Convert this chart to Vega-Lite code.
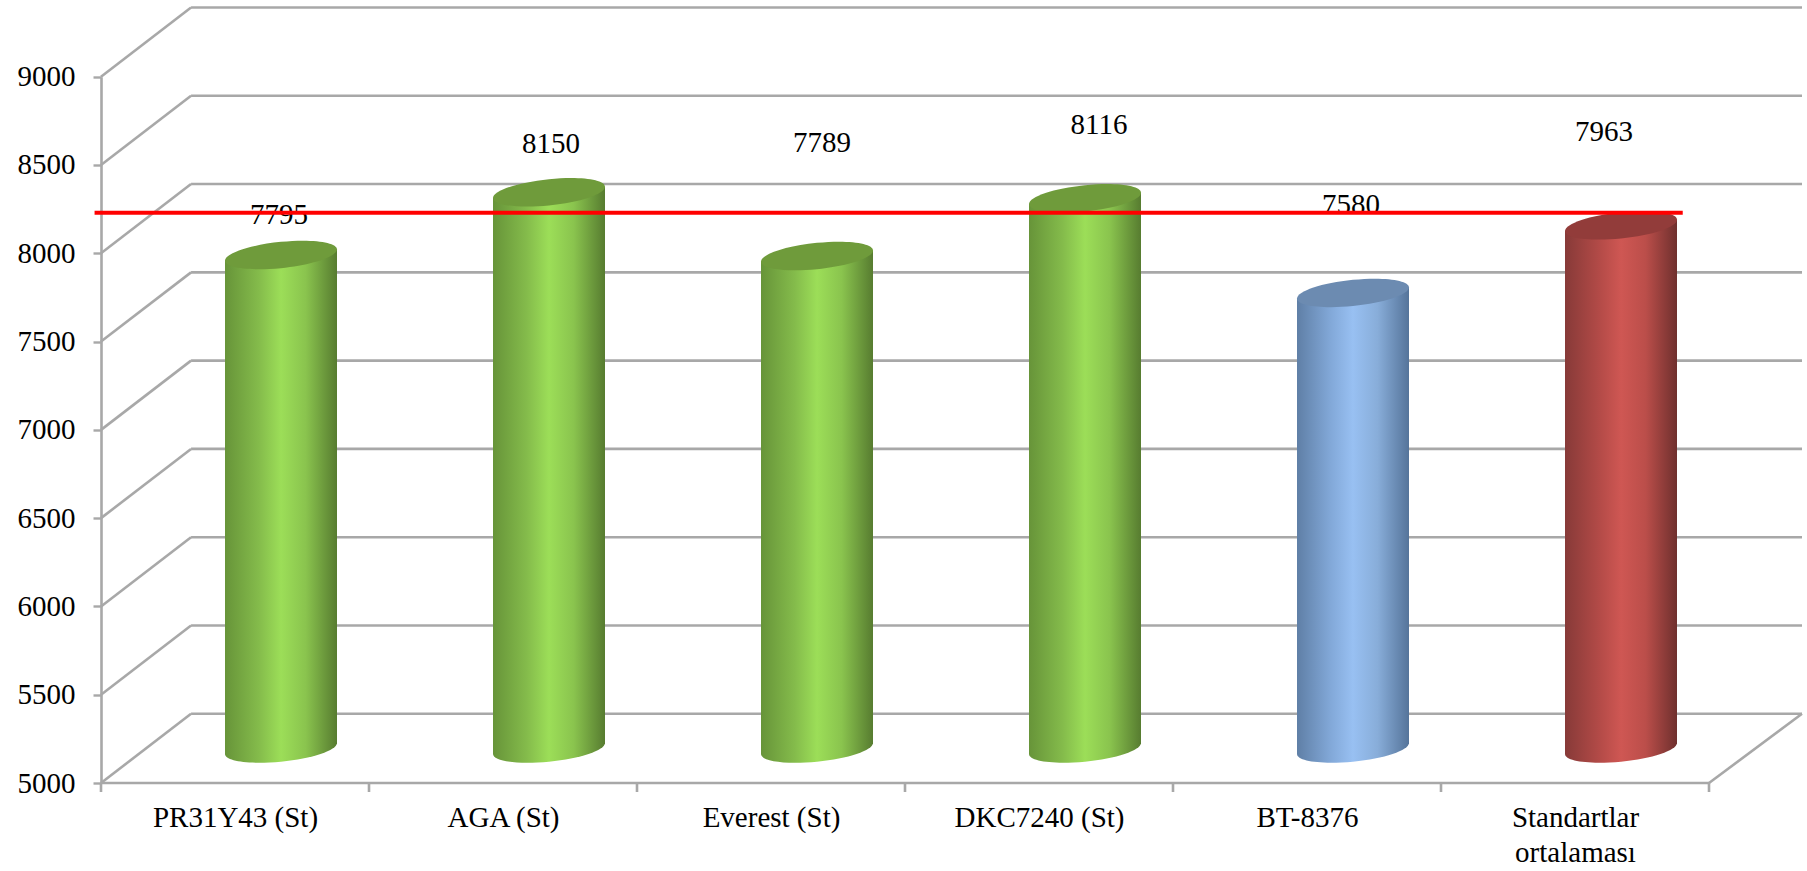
{
"$schema":"https://vega.github.io/schema/vega-lite/v6.json",
"autosize":"none","width":1701,"height":776,
"padding":{"left":101,"top":7,"right":5,"bottom":88},
"background":"white",
"config":{"view":{"stroke":null}},
"datasets":{
"bars":[
{"cat":"PR31Y43 (St)","slot":0.5,"value":7795,"base":5000,"group":"St"},
{"cat":"AGA (St)","slot":1.5,"value":8150,"base":5000,"group":"St"},
{"cat":"Everest (St)","slot":2.5,"value":7789,"base":5000,"group":"St"},
{"cat":"DKC7240 (St)","slot":3.5,"value":8116,"base":5000,"group":"St"},
{"cat":"BT-8376","slot":4.5,"value":7580,"base":5000,"group":"Aday"},
{"cat":"Standartlar ortalaması","slot":5.5,"value":7963,"base":5000,"group":"Ort"}],
"labels":[
{"value":7795,"at":0.664,"level":8217},
{"value":8150,"at":1.679,"level":8619},
{"value":7789,"at":2.69,"level":8625},
{"value":8116,"at":3.724,"level":8727},
{"value":7580,"at":4.664,"level":8274},
{"value":7963,"at":5.608,"level":8687}],
"frame":[
{"a":0,"a2":0.336,"b":5000,"b2":5392},{"a":0,"a2":0.336,"b":5500,"b2":5892},{"a":0,"a2":0.336,"b":6000,"b2":6392},
{"a":0,"a2":0.336,"b":6500,"b2":6892},{"a":0,"a2":0.336,"b":7000,"b2":7392},{"a":0,"a2":0.336,"b":7500,"b2":7892},
{"a":0,"a2":0.336,"b":8000,"b2":8392},{"a":0,"a2":0.336,"b":8500,"b2":8892},{"a":0,"a2":0.336,"b":9000,"b2":9392},
{"a":0.336,"a2":6.347,"b":5392,"b2":5392},{"a":0.336,"a2":6.347,"b":5892,"b2":5892},{"a":0.336,"a2":6.347,"b":6392,"b2":6392},
{"a":0.336,"a2":6.347,"b":6892,"b2":6892},{"a":0.336,"a2":6.347,"b":7392,"b2":7392},{"a":0.336,"a2":6.347,"b":7892,"b2":7892},
{"a":0.336,"a2":6.347,"b":8392,"b2":8392},{"a":0.336,"a2":6.347,"b":8892,"b2":8892},{"a":0.336,"a2":6.347,"b":9392,"b2":9392},
{"a":6,"a2":6.347,"b":5000,"b2":5392},
{"a":0,"a2":6,"b":5000,"b2":5000},
{"a":0,"a2":0,"b":5000,"b2":4949},{"a":1,"a2":1,"b":5000,"b2":4949},{"a":2,"a2":2,"b":5000,"b2":4949},{"a":3,"a2":3,"b":5000,"b2":4949},
{"a":4,"a2":4,"b":5000,"b2":4949},{"a":5,"a2":5,"b":5000,"b2":4949},{"a":6,"a2":6,"b":5000,"b2":4949}],
"mean":[{"a":-0.024,"a2":5.902,"b":8230}]
},
"layer":[
{"data":{"name":"frame"},
 "mark":{"type":"rule","color":"#a8a8a8","strokeWidth":2.6},
 "encoding":{
  "x":{"field":"a","type":"quantitative","scale":{"domain":[0,6.347],"nice":false,"zero":false,"padding":0},
   "axis":{"title":null,"values":[0.5,1.5,2.5,3.5,4.5,5.5],"domain":false,"ticks":false,"grid":false,"tickSize":0,"labelPadding":20,"labelAngle":0,"labelFont":"Liberation Serif","labelFontSize":29,"labelColor":"#000000","labelLimit":400,"labelLineHeight":35,"labelOverlap":false,"labelFlush":false,
   "labelExpr":"['PR31Y43 (St)','AGA (St)','Everest (St)','DKC7240 (St)','BT-8376',['Standartlar','ortalaması']][datum.value-0.5]"}},
  "x2":{"field":"a2"},
  "y":{"field":"b","type":"quantitative","scale":{"domain":[5000,9000],"range":[776,69.7],"nice":false,"zero":false},
   "axis":{"values":[5000,5500,6000,6500,7000,7500,8000,8500,9000],"title":null,"grid":false,"domainColor":"#a8a8a8","domainWidth":2.6,"tickColor":"#a8a8a8","tickWidth":2.4,"tickSize":8,"labelPadding":18,"labelFont":"Liberation Serif","labelFontSize":29,"labelColor":"#000000","format":"d"}},
  "y2":{"field":"b2"}}},
{"data":{"name":"bars"},"transform":[{"filter":"datum.group=='St'"}],
 "mark":{"type":"bar","size":112,"xOffset":46,"yOffset":-29,"y2Offset":-39,"color":{"gradient":"linear","x1":0,"x2":1,"y1":0,"y2":0,"stops":[{"offset":0,"color":"#679439"},{"offset":0.3,"color":"#84bb4b"},{"offset":0.5,"color":"#9cde58"},{"offset":0.72,"color":"#8ac44e"},{"offset":1,"color":"#577c30"}]}},
 "encoding":{"x":{"field":"slot","type":"quantitative"},"y":{"field":"value","type":"quantitative"},"y2":{"field":"base"}}},
{"data":{"name":"bars"},"transform":[{"filter":"datum.group=='Aday'"}],
 "mark":{"type":"bar","size":112,"xOffset":46,"yOffset":-29,"y2Offset":-39,"color":{"gradient":"linear","x1":0,"x2":1,"y1":0,"y2":0,"stops":[{"offset":0,"color":"#5f7fa6"},{"offset":0.3,"color":"#82a8d8"},{"offset":0.5,"color":"#98c0f2"},{"offset":0.72,"color":"#88add9"},{"offset":1,"color":"#55749a"}]}},
 "encoding":{"x":{"field":"slot","type":"quantitative"},"y":{"field":"value","type":"quantitative"},"y2":{"field":"base"}}},
{"data":{"name":"bars"},"transform":[{"filter":"datum.group=='Ort'"}],
 "mark":{"type":"bar","size":112,"xOffset":46,"yOffset":-29,"y2Offset":-39,"color":{"gradient":"linear","x1":0,"x2":1,"y1":0,"y2":0,"stops":[{"offset":0,"color":"#873a38"},{"offset":0.3,"color":"#b24a47"},{"offset":0.5,"color":"#cf5753"},{"offset":0.72,"color":"#bb4e4a"},{"offset":1,"color":"#6f302e"}]}},
 "encoding":{"x":{"field":"slot","type":"quantitative"},"y":{"field":"value","type":"quantitative"},"y2":{"field":"base"}}},
{"data":{"name":"bars"},"transform":[{"filter":"datum.group=='St'"}],
 "mark":{"type":"point","filled":true,"opacity":1,"strokeWidth":0,"size":12544,"xOffset":46,"yOffset":-34.5,"shape":"M1,-0.125L1,-0.1C1,0.0298,0.552,0.18,0,0.235C-0.552,0.29,-1,0.2298,-1,0.1L-1,-0.125Z","color":{"gradient":"linear","x1":0,"x2":1,"y1":0,"y2":0,"stops":[{"offset":0,"color":"#679439"},{"offset":0.3,"color":"#84bb4b"},{"offset":0.5,"color":"#9cde58"},{"offset":0.72,"color":"#8ac44e"},{"offset":1,"color":"#577c30"}]}},
 "encoding":{"x":{"field":"slot","type":"quantitative"},"y":{"field":"base","type":"quantitative"}}},
{"data":{"name":"bars"},"transform":[{"filter":"datum.group=='Aday'"}],
 "mark":{"type":"point","filled":true,"opacity":1,"strokeWidth":0,"size":12544,"xOffset":46,"yOffset":-34.5,"shape":"M1,-0.125L1,-0.1C1,0.0298,0.552,0.18,0,0.235C-0.552,0.29,-1,0.2298,-1,0.1L-1,-0.125Z","color":{"gradient":"linear","x1":0,"x2":1,"y1":0,"y2":0,"stops":[{"offset":0,"color":"#5f7fa6"},{"offset":0.3,"color":"#82a8d8"},{"offset":0.5,"color":"#98c0f2"},{"offset":0.72,"color":"#88add9"},{"offset":1,"color":"#55749a"}]}},
 "encoding":{"x":{"field":"slot","type":"quantitative"},"y":{"field":"base","type":"quantitative"}}},
{"data":{"name":"bars"},"transform":[{"filter":"datum.group=='Ort'"}],
 "mark":{"type":"point","filled":true,"opacity":1,"strokeWidth":0,"size":12544,"xOffset":46,"yOffset":-34.5,"shape":"M1,-0.125L1,-0.1C1,0.0298,0.552,0.18,0,0.235C-0.552,0.29,-1,0.2298,-1,0.1L-1,-0.125Z","color":{"gradient":"linear","x1":0,"x2":1,"y1":0,"y2":0,"stops":[{"offset":0,"color":"#873a38"},{"offset":0.3,"color":"#b24a47"},{"offset":0.5,"color":"#cf5753"},{"offset":0.72,"color":"#bb4e4a"},{"offset":1,"color":"#6f302e"}]}},
 "encoding":{"x":{"field":"slot","type":"quantitative"},"y":{"field":"base","type":"quantitative"}}},
{"data":{"name":"bars"},"transform":[{"filter":"datum.group=='St'"}],
 "mark":{"type":"point","filled":true,"opacity":1,"strokeWidth":0,"size":12544,"xOffset":46,"yOffset":-34.5,"shape":"M-1,0.1L1,-0.1L1,0.14L-1,0.14Z","color":{"gradient":"linear","x1":0,"x2":1,"y1":0,"y2":0,"stops":[{"offset":0,"color":"#679439"},{"offset":0.3,"color":"#84bb4b"},{"offset":0.5,"color":"#9cde58"},{"offset":0.72,"color":"#8ac44e"},{"offset":1,"color":"#577c30"}]}},
 "encoding":{"x":{"field":"slot","type":"quantitative"},"y":{"field":"value","type":"quantitative"}}},
{"data":{"name":"bars"},"transform":[{"filter":"datum.group=='Aday'"}],
 "mark":{"type":"point","filled":true,"opacity":1,"strokeWidth":0,"size":12544,"xOffset":46,"yOffset":-34.5,"shape":"M-1,0.1L1,-0.1L1,0.14L-1,0.14Z","color":{"gradient":"linear","x1":0,"x2":1,"y1":0,"y2":0,"stops":[{"offset":0,"color":"#5f7fa6"},{"offset":0.3,"color":"#82a8d8"},{"offset":0.5,"color":"#98c0f2"},{"offset":0.72,"color":"#88add9"},{"offset":1,"color":"#55749a"}]}},
 "encoding":{"x":{"field":"slot","type":"quantitative"},"y":{"field":"value","type":"quantitative"}}},
{"data":{"name":"bars"},"transform":[{"filter":"datum.group=='Ort'"}],
 "mark":{"type":"point","filled":true,"opacity":1,"strokeWidth":0,"size":12544,"xOffset":46,"yOffset":-34.5,"shape":"M-1,0.1L1,-0.1L1,0.14L-1,0.14Z","color":{"gradient":"linear","x1":0,"x2":1,"y1":0,"y2":0,"stops":[{"offset":0,"color":"#873a38"},{"offset":0.3,"color":"#b24a47"},{"offset":0.5,"color":"#cf5753"},{"offset":0.72,"color":"#bb4e4a"},{"offset":1,"color":"#6f302e"}]}},
 "encoding":{"x":{"field":"slot","type":"quantitative"},"y":{"field":"value","type":"quantitative"}}},
{"data":{"name":"bars"},
 "mark":{"type":"point","filled":true,"opacity":1,"strokeWidth":0,"size":12544,"xOffset":46,"yOffset":-34.5,"shape":"M1,-0.1C1,0.0298,0.552,0.18,0,0.235C-0.552,0.29,-1,0.2298,-1,0.1C-1,-0.0298,-0.552,-0.18,0,-0.235C0.552,-0.29,1,-0.2298,1,-0.1Z"},
 "encoding":{"x":{"field":"slot","type":"quantitative"},"y":{"field":"value","type":"quantitative"},
   "fill":{"field":"group","type":"nominal","legend":null,"scale":{"domain":["St","Aday","Ort"],"range":["#6f9b3b","#6c8bb1","#923c3a"]}}}},
{"data":{"name":"labels"},
 "mark":{"type":"text","font":"Liberation Serif","fontSize":29,"color":"#000000","align":"center","baseline":"middle"},
 "encoding":{
  "x":{"field":"at","type":"quantitative"},
  "y":{"field":"level","type":"quantitative"},
  "text":{"field":"value","type":"nominal"}}},
{"data":{"name":"mean"},
 "mark":{"type":"rule","color":"#ff0000","strokeWidth":4},
 "encoding":{
  "x":{"field":"a","type":"quantitative"},
  "x2":{"field":"a2"},
  "y":{"field":"b","type":"quantitative"}}}
]}
